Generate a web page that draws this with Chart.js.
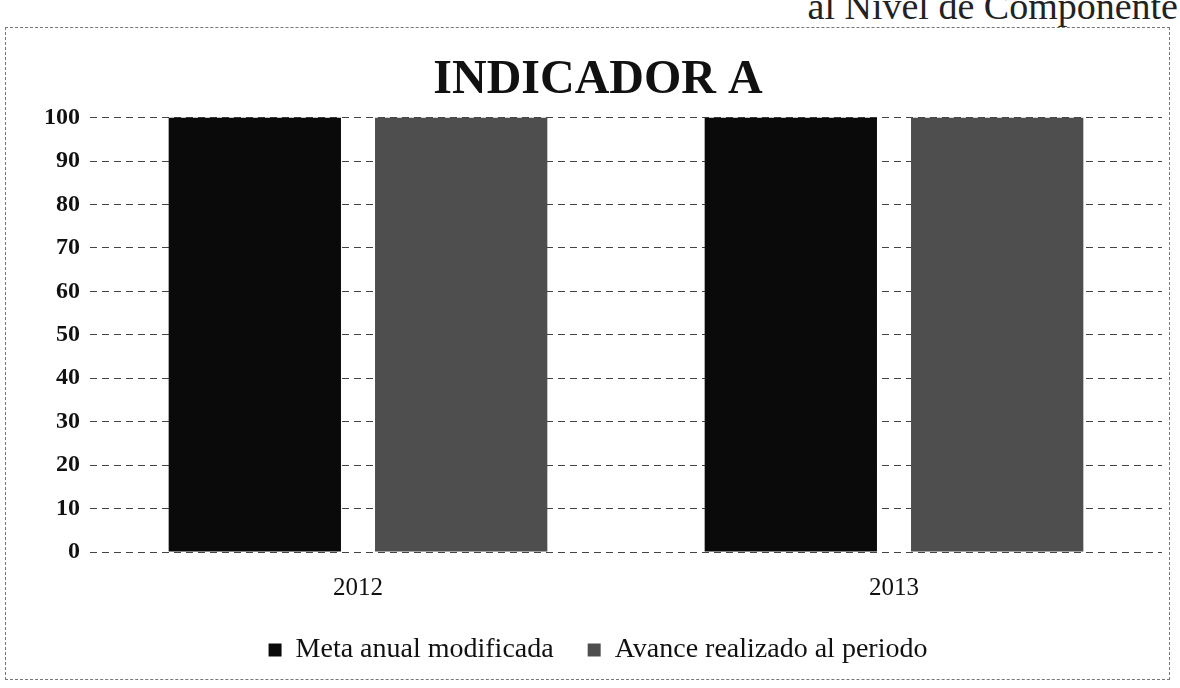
<!DOCTYPE html>
<html>
<head>
<meta charset="utf-8">
<script src="https://cdn.jsdelivr.net/npm/chart.js@4.4.0/dist/chart.umd.min.js"></script>
<style>
  html, body { margin: 0; padding: 0; background: #fff; }
  #wrap { position: relative; width: 1180px; height: 688px; overflow: hidden; }
  #top { position: absolute; right: 2px; top: -16px; font-family: "Liberation Serif", serif; font-size: 38px; color: #222; white-space: nowrap; }
  #frame { position: absolute; left: 5px; top: 27px; width: 1163px; height: 651px; border: 1px dashed #777; }
  canvas { position: absolute; left: 0; top: 0; }
</style>
</head>
<body>
<div id="wrap">
  <div id="top">al Nivel de Componente</div>
  <div id="frame"></div>
  <canvas id="chart_canvas" width="1180" height="688"></canvas>
</div>
<script>
const years = ['2012', '2013'];
const metaAnual = [100, 100];
const avance = [100, 100];
const yTicks = [0, 10, 20, 30, 40, 50, 60, 70, 80, 90, 100];

const serif = '"Liberation Serif", "DejaVu Serif", serif';

document.addEventListener('DOMContentLoaded', () => {
    const ctx = document.getElementById('chart_canvas').getContext('2d');
    new Chart(ctx, {
        type: 'bar',
        data: {
            labels: years,
            datasets: [{
                label: 'Meta anual modificada',
                data: metaAnual,
                backgroundColor: '#0a0a0a',
                barPercentage: 0.835,
                categoryPercentage: 0.77
            }, {
                label: 'Avance realizado al periodo',
                data: avance,
                backgroundColor: '#4e4e4e',
                barPercentage: 0.835,
                categoryPercentage: 0.77
            }]
        },
        options: {
            responsive: false,
            animation: false,
            layout: {
                padding: { left: 34, right: 18, top: 52, bottom: 14 }
            },
            plugins: {
                title: {
                    display: true,
                    text: 'INDICADOR A',
                    color: '#111',
                    font: { family: serif, size: 48, weight: 'bold' },
                    padding: { top: 0, bottom: 8 }
                },
                legend: {
                    position: 'bottom',
                    labels: {
                        color: '#111',
                        font: { family: serif, size: 28 },
                        boxWidth: 13,
                        boxHeight: 13,
                        padding: 20,
                        // a bit more room between the two entries
                        generateLabels: (chart) => Chart.defaults.plugins.legend.labels.generateLabels(chart)
                            .map((l, i) => i === 0 ? { ...l, text: l.text + '\u2002' } : l)
                    }
                },
                tooltip: { enabled: false }
            },
            scales: {
                y: {
                    min: 0,
                    max: 100,
                    afterBuildTicks: (axis) => {
                        axis.ticks = yTicks.map(v => ({ value: v }));
                    },
                    ticks: {
                        color: '#111',
                        font: { family: serif, size: 24, weight: 'bold' },
                        padding: 10
                    },
                    grid: {
                        color: '#444',
                        lineWidth: 1,
                        drawTicks: false
                    },
                    border: { display: false, dash: [7, 5] }
                },
                x: {
                    ticks: {
                        color: '#111',
                        font: { family: serif, size: 25 },
                        padding: 13
                    },
                    grid: { display: false },
                    border: { display: false }
                }
            }
        }
    });
});
</script>
</body>
</html>
